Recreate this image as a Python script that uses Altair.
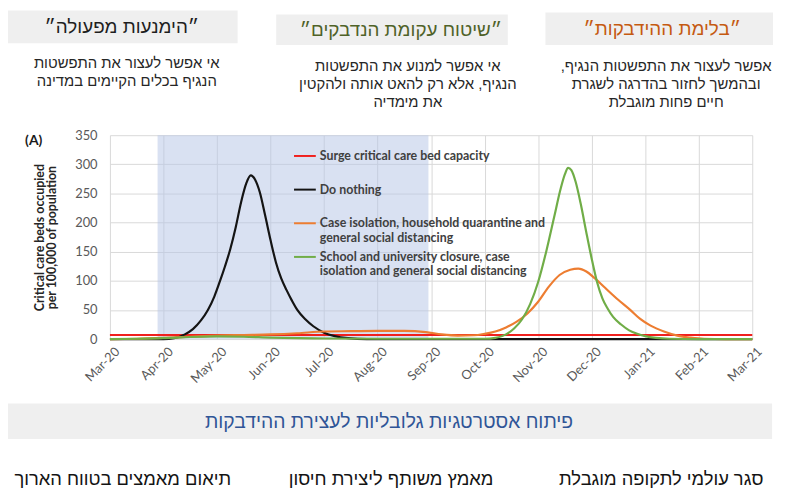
import altair as alt
import pandas as pd

# ---------------- data ----------------
month_labels = ["Mar-20", "Apr-20", "May-20", "Jun-20", "Jul-20", "Aug-20", "Sep-20",
                "Oct-20", "Nov-20", "Dec-20", "Jan-21", "Feb-21", "Mar-21"]
y_ticks = [0, 50, 100, 150, 200, 250, 300, 350]

# shaded period (months after 1 Mar 2020)
shade_start = [0.89]
shade_end = [5.95]

series_keys = [
    "Surge critical care bed capacity|",
    "Do nothing|",
    "Case isolation, household quarantine and|general social distancing",
    "School and university closure, case|isolation and general social distancing",
]
series_colors = ["#f0201e", "#141414", "#ed7d31", "#70ad47"]

surge_t = [0, 12]
surge_v = [7, 7]

black_t = [0, 1.0, 1.2, 1.4, 1.55, 1.7, 1.83, 1.95, 2.05, 2.15, 2.25, 2.35, 2.45, 2.55, 2.63,
           2.71, 2.8, 2.9, 3.0, 3.1, 3.2, 3.3, 3.4, 3.5, 3.65, 3.8, 4.0, 4.2, 4.45, 4.8, 12]
black_v = [0, 0, 1.5, 8, 17, 32, 50, 73, 98, 125, 155, 192, 235, 268, 281,
           274, 252, 212, 170, 132, 104, 84, 66, 50, 34, 22, 11, 5, 1.5, 0, 0]

orange_t = [0, 0.5, 1.0, 1.5, 2.0, 2.5, 3.0, 3.5, 4.0, 4.5, 5.0, 5.5, 5.9, 6.2, 6.5, 6.8, 7.0,
            7.2, 7.4, 7.6, 7.8, 8.0, 8.2, 8.4, 8.6, 8.75, 8.9, 9.05, 9.25, 9.5, 9.72, 9.9,
            10.1, 10.35, 10.6, 10.85, 11.1, 11.5, 12]
orange_v = [0, 0.5, 2, 4, 6, 7, 8, 10, 13, 13.5, 14, 14, 12, 8, 6, 6.5, 9,
            13, 20, 30, 44, 64, 90, 110, 119, 121, 116, 105, 88, 67, 50, 35,
            23, 13, 6, 2.5, 0.5, 0, 0]

green_t = [0, 0.5, 1.0, 1.5, 2.0, 2.5, 3.0, 3.5, 4.0, 5.0, 6.0, 7.0, 7.2, 7.4, 7.55, 7.7,
           7.85, 8.0, 8.15, 8.3, 8.42, 8.5, 8.56, 8.62, 8.7, 8.8, 8.9, 9.0, 9.1, 9.2, 9.3,
           9.4, 9.55, 9.7, 9.85, 10.0, 10.2, 10.45, 11, 12]
green_v = [0, 0.5, 1.5, 3.5, 4.5, 4, 2.5, 1.5, 1, 0.5, 0.5, 0.5, 2, 8, 18, 34,
           60, 98, 150, 210, 258, 283, 294, 290, 270, 230, 183, 138, 98, 70, 52,
           38, 25, 15, 9, 5, 2, 0.5, 0, 0]

panel_label = "(A)"
y_title = ["Critical care beds occupied", "per 100,000 of population"]

header_titles = ["״הימנעות מפעולה״", "״שיטוח עקומת הנדבקים״", "״בלימת ההידבקות״"]
header_colors = ["#1e1e1e", "#4f6228", "#c55a11"]
header_lines = [
    ["אי אפשר לעצור את התפשטות", "הנגיף בכלים הקיימים במדינה"],
    ["אי אפשר למנוע את התפשטות", "הנגיף, אלא רק להאט אותה ולהקטין", "את מימדיה"],
    ["אפשר לעצור את התפשטות הנגיף,\u200f", "ובהמשך לחזור בהדרגה לשגרת", "חיים פחות מוגבלת"],
]
banner_text = "פיתוח אסטרטגיות גלובליות לעצירת ההידבקות"
bottom_texts = ["תיאום מאמצים בטווח הארוך", "מאמץ משותף ליצירת חיסון", "סגר עולמי לתקופה מוגבלת"]

# ---------------- layout (page pixels) ----------------
PLOT_X, PLOT_Y = 111, 134
W, H = 649, 206
hdr_boxes = [(7, 240, 8, 41), (279, 513, 12, 43), (551, 781, 10, 43)]
hdr_title_pos = [(123, 25), (405, 28), (669, 27)]
hdr_sub_pos = [(128, 61), (412, 64), (673, 64)]
sub_lh = 18.5
banner_box = (4, 780, 405, 441)
banner_pos = (393, 424)
bottom_pos = [(124, 481), (395, 481), (668, 481)]
panel_pos = (34, 140)

HEB = "Liberation Sans"
ENG = "Lato"

# ---------------- tables ----------------
rows = []
for key, ts, vs in zip(series_keys, [surge_t, black_t, orange_t, green_t],
                       [surge_v, black_v, orange_v, green_v]):
    for t, v in zip(ts, vs):
        rows.append({"series": key, "t": t, "v": v})
df = pd.DataFrame(rows)

shade_df = pd.DataFrame({"t0": shade_start, "t1": shade_end, "y0": [0], "y1": [350]})

box_rows = [{"x1": b[0] - PLOT_X, "x2": b[1] - PLOT_X, "y1": b[2] - PLOT_Y, "y2": b[3] - PLOT_Y}
            for b in hdr_boxes + [banner_box]]
box_df = pd.DataFrame(box_rows)

text_rows = []
for txt, col, (x, y) in zip(header_titles, header_colors, hdr_title_pos):
    text_rows.append({"px": x - PLOT_X, "py": y - PLOT_Y, "txt": txt, "c": col, "s": 19})
for lines, (x, y) in zip(header_lines, hdr_sub_pos):
    for i, ln in enumerate(lines):
        text_rows.append({"px": x - PLOT_X, "py": y + i * sub_lh - PLOT_Y, "txt": ln, "c": "#262626", "s": 15})
text_rows.append({"px": banner_pos[0] - PLOT_X, "py": banner_pos[1] - PLOT_Y, "txt": banner_text,
                  "c": "#2f5597", "s": 19.5})
for txt, (x, y) in zip(bottom_texts, bottom_pos):
    text_rows.append({"px": x - PLOT_X, "py": y - PLOT_Y, "txt": txt, "c": "#141414", "s": 18.5})
text_df = pd.DataFrame(text_rows)

panel_df = pd.DataFrame({"px": [panel_pos[0] - PLOT_X], "py": [panel_pos[1] - PLOT_Y], "txt": [panel_label]})

# ---------------- chart ----------------
month_expr = str(month_labels) + "[datum.value]"
xscale = alt.Scale(domain=[0, 12], nice=False, zero=False)
yscale = alt.Scale(domain=[0, 350], nice=False)
xaxis = alt.Axis(values=list(range(13)), labelExpr=month_expr, labelAngle=315, labelAlign="right",
                 labelBaseline="top", labelFont=ENG, labelFontSize=13, labelColor="#595959",
                 labelPadding=6, labelOffset=3, labelFlush=False, labelOverlap=False, labelBound=False,
                 ticks=False, domain=False, grid=True, gridColor="#d9d9d9", title=None)
yaxis = alt.Axis(values=y_ticks, labelFont=ENG, labelFontSize=13, labelColor="#595959",
                 labelPadding=13, ticks=False, domain=False, grid=True, gridColor="#d9d9d9",
                 title=y_title, titleFont=ENG, titleFontSize=12.5, titleFontWeight="bold",
                 titleColor="#262626", titlePadding=16, titleLineHeight=13)

shade = alt.Chart(shade_df).mark_rect(color="#b4c3e6", opacity=0.5).encode(
    x=alt.X("t0:Q", scale=xscale, axis=xaxis),
    x2="t1:Q",
    y=alt.Y("y1:Q", scale=yscale, axis=yaxis),
    y2="y0:Q",
)

lines = alt.Chart(df).mark_line(interpolate="monotone", strokeWidth=2.2).encode(
    x=alt.X("t:Q", scale=xscale, axis=xaxis),
    y=alt.Y("v:Q", scale=yscale, axis=yaxis),
    color=alt.Color("series:N", sort=series_keys,
                    scale=alt.Scale(domain=series_keys, range=series_colors),
                    legend=alt.Legend(title=None, orient="none", legendX=185, legendY=9,
                                      symbolType="stroke", symbolSize=484, symbolStrokeWidth=2,
                                      labelExpr="split(datum.label, '|')", labelFont=ENG,
                                      labelFontSize=12.5, labelFontWeight="bold",
                                      labelColor="#404040", labelLimit=600, rowPadding=1,
                                      labelOffset=3, padding=0, symbolOffset=0)),
)

boxes = alt.Chart(box_df).mark_rect(color="#efefef").encode(
    x=alt.X("x1:Q", scale=None, axis=None), x2="x2:Q",
    y=alt.Y("y1:Q", scale=None, axis=None), y2="y2:Q",
)

texts = alt.Chart(text_df).mark_text(font=HEB, align="center", baseline="middle", dir="rtl").encode(
    x=alt.X("px:Q", scale=None, axis=None),
    y=alt.Y("py:Q", scale=None, axis=None),
    text="txt:N",
    color=alt.Color("c:N", scale=None),
    size=alt.Size("s:Q", scale=None),
)

panel = alt.Chart(panel_df).mark_text(font=ENG, fontSize=14, fontWeight="bold", color="#1a1a1a",
                                      align="center", baseline="middle").encode(
    x=alt.X("px:Q", scale=None, axis=None),
    y=alt.Y("py:Q", scale=None, axis=None),
    text="txt:N",
)

chart = alt.layer(shade, lines, boxes, texts, panel).properties(
    width=W, height=H,
    autosize=alt.AutoSizeParams(type="none"),
    padding={"left": 103, "top": 126, "right": 26, "bottom": 150},
    background="white",
).configure_view(stroke=None)

chart.save("out.html", embed_options={"renderer": "svg", "actions": False})
